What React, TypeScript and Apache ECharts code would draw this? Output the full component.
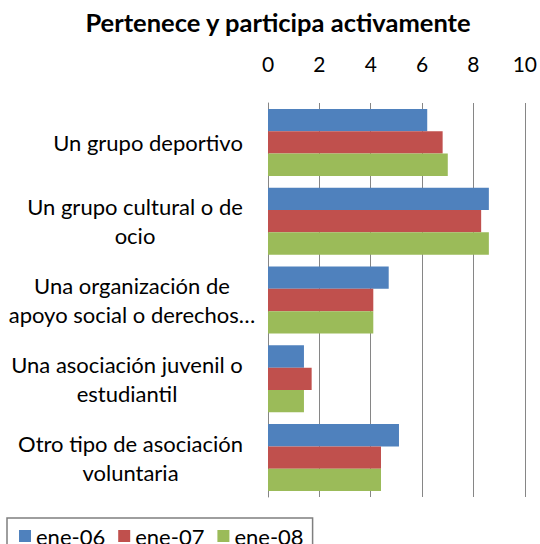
import React, { useEffect, useRef } from "react";
import * as echarts from "echarts";

const categories = [
  "Un grupo deportivo",
  "Un grupo cultural o de\nocio",
  "Una organización de\napoyo social o derechos…",
  "Una asociación juvenil o\nestudiantil",
  "Otro tipo de asociación\nvoluntaria",
];
const seriesNames = ["ene-06", "ene-07", "ene-08"];
const ene06 = [6.2, 8.6, 4.7, 1.4, 5.1];
const ene07 = [6.8, 8.3, 4.1, 1.7, 4.4];
const ene08 = [7.0, 8.6, 4.1, 1.4, 4.4];
const colors = ["#4F81BD", "#C0504D", "#9BBB59"];

const FONT = "Lato, 'Open Sans', sans-serif";
const LABEL_SIZE = 22;

export default function App() {
  const ref = useRef<HTMLDivElement>(null);
  useEffect(() => {
    document.body.style.margin = "0";
    if (!ref.current) return;
    const chart = echarts.init(ref.current, null, { renderer: "svg" });

    const canvas = document.createElement("canvas");
    const ctx = canvas.getContext("2d")!;
    ctx.font = `${LABEL_SIZE}px Lato`;
    const rich: Record<string, any> = {};
    categories.forEach((c, i) => {
      const lines = c.split("\n");
      let w = Math.max(...lines.map((l) => ctx.measureText(l).width));
      if (i === 2) w = ctx.measureText(lines[0]).width + 26;
      rich["r" + i] = {
        width: Math.ceil(w),
        align: "center",
        fontFamily: FONT,
        fontSize: LABEL_SIZE,
        lineHeight: 29,
        color: "#000",
      };
    });

    const data = [ene06, ene07, ene08];
    chart.setOption({
      animation: false,
      title: {
        text: "Pertenece y participa activamente",
        left: 273,
        textAlign: "center",
        top: 4,
        textStyle: { fontFamily: FONT, fontSize: 25.5, fontWeight: "bold", color: "#000" },
      },
      legend: {
        data: seriesNames,
        left: 7,
        top: 518,
        orient: "horizontal",
        icon: "rect",
        itemWidth: 12,
        itemHeight: 12,
        itemGap: 13,
        padding: [7, 9, 7, 12],
        borderColor: "#7f7f7f",
        borderWidth: 1.5,
        textStyle: { fontFamily: FONT, fontSize: 22, color: "#000" },
      },
      grid: { left: 268, right: 14, top: 103, bottom: 47, containLabel: false },
      xAxis: {
        type: "value",
        position: "top",
        min: 0,
        max: 10,
        interval: 2,
        axisLine: { show: false },
        axisTick: { show: false },
        axisLabel: { fontFamily: FONT, fontSize: 21, color: "#000", margin: 29 },
        splitLine: { show: true, lineStyle: { color: "#868686", width: 1 } },
      },
      yAxis: {
        type: "category",
        data: categories,
        inverse: true,
        axisLine: { show: true, lineStyle: { color: "#868686", width: 1 } },
        axisTick: { show: false },
        axisLabel: {
          interval: 0,
          margin: 25,
          formatter: (v: string, i: number) =>
            v.split("\n").map((l) => `{r${i}|${l}}`).join("\n"),
          rich,
        },
      },
      series: seriesNames.map((n, k) => ({
        name: n,
        type: "bar",
        data: data[k],
        barGap: "0%",
        barCategoryGap: "15%",
        itemStyle: { color: colors[k] },
      })),
    });
    return () => chart.dispose();
  }, []);
  return <div ref={ref} style={{ width: 540, height: 544 }} />;
}
